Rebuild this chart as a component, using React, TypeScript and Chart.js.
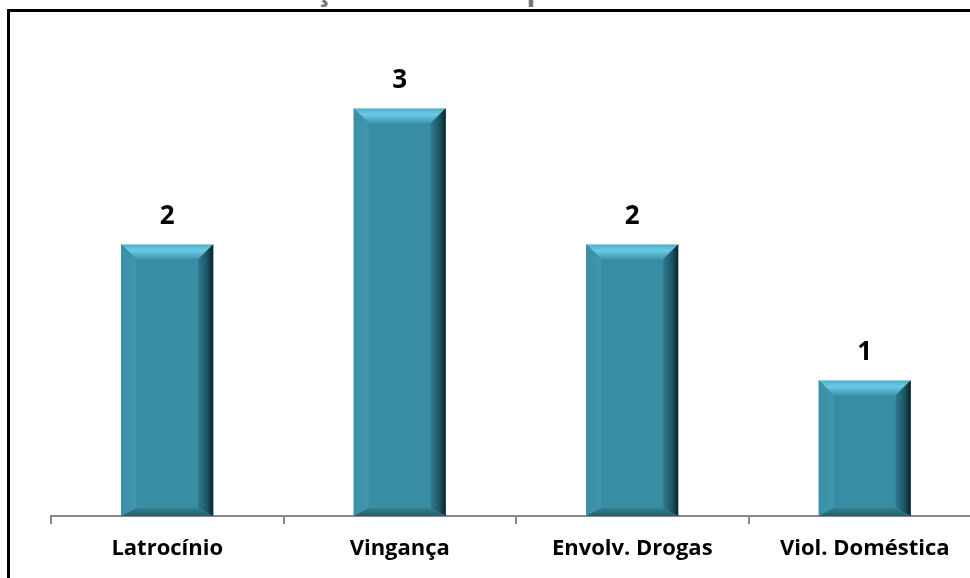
import React, { useEffect, useRef } from "react";
import { Chart, registerables } from "chart.js";

Chart.register(...registerables);

const titleText = "Gráfico 05 – Motivação dos CVLIs que foram elucidados – Oeste Nudeste";
const categories = ["Latrocínio", "Vingança", "Envolv. Drogas", "Viol. Doméstica"];
const values = [2, 3, 2, 1];
const yMax = 3.5;

const bevelPlugin = {
  id: "bevel",
  afterDatasetsDraw(chart: any) {
    const ctx = chart.ctx;
    const meta = chart.getDatasetMeta(0);
    meta.data.forEach((bar: any, i: number) => {
      const { x, y, base, width } = bar.getProps(["x", "y", "base", "width"], true);
      const l = x - width / 2;
      const r = x + width / 2;
      const t = y;
      const btm = base;
      const b = 15;
      const b2 = 8;
      ctx.save();
      ctx.fillStyle = "#388DA4";
      ctx.fillRect(l, t, r - l, btm - t);
      // left bevel
      let g = ctx.createLinearGradient(l, 0, l + b, 0);
      g.addColorStop(0, "#3A8FA6");
      g.addColorStop(1, "#3F96AD");
      ctx.fillStyle = g;
      ctx.beginPath();
      ctx.moveTo(l, t); ctx.lineTo(l + b, t + b); ctx.lineTo(l + b, btm - b2); ctx.lineTo(l, btm); ctx.closePath();
      ctx.fill();
      // right bevel
      g = ctx.createLinearGradient(r - b, 0, r, 0);
      g.addColorStop(0, "#2E7A8F");
      g.addColorStop(0.6, "#1D5463");
      g.addColorStop(1, "#0A2228");
      ctx.fillStyle = g;
      ctx.beginPath();
      ctx.moveTo(r, t); ctx.lineTo(r, btm); ctx.lineTo(r - b, btm - b2); ctx.lineTo(r - b, t + b); ctx.closePath();
      ctx.fill();
      // bottom bevel
      g = ctx.createLinearGradient(0, btm - b2, 0, btm);
      g.addColorStop(0, "#337F94");
      g.addColorStop(1, "#22606F");
      ctx.fillStyle = g;
      ctx.beginPath();
      ctx.moveTo(l, btm); ctx.lineTo(r, btm); ctx.lineTo(r - b, btm - b2); ctx.lineTo(l + b, btm - b2); ctx.closePath();
      ctx.fill();
      // top bevel
      g = ctx.createLinearGradient(0, t, 0, t + b);
      g.addColorStop(0, "#4FAFC9");
      g.addColorStop(0.45, "#6ACBE4");
      g.addColorStop(1, "#3F98B0");
      ctx.fillStyle = g;
      ctx.beginPath();
      ctx.moveTo(l, t); ctx.lineTo(r, t); ctx.lineTo(r - b, t + b); ctx.lineTo(l + b, t + b); ctx.closePath();
      ctx.fill();
      // top edge
      ctx.strokeStyle = "#A9C7D0";
      ctx.lineWidth = 1;
      ctx.beginPath();
      ctx.moveTo(l, t + 0.5); ctx.lineTo(r, t + 0.5);
      ctx.stroke();
      // value label
      ctx.fillStyle = "#000";
      ctx.font = "bold 26px 'Open Sans'";
      ctx.textAlign = "center";
      ctx.textBaseline = "middle";
      ctx.fillText(String(values[i]), x, t - 27);
      ctx.restore();
    });
  },
};

export default function App() {
  const ref = useRef<HTMLCanvasElement>(null);
  useEffect(() => {
    if (!ref.current) return;
    const chart = new Chart(ref.current, {
      type: "bar",
      data: {
        labels: categories,
        datasets: [
          {
            data: values,
            backgroundColor: "#388DA4",
            borderWidth: 0,
            barPercentage: 0.395,
            categoryPercentage: 1,
          },
        ],
      },
      options: {
        responsive: false,
        animation: false,
        maintainAspectRatio: false,
        layout: { padding: { left: 51, right: 29, top: 40, bottom: 0 } },
        plugins: { legend: { display: false }, tooltip: { enabled: false }, title: { display: false } },
        scales: {
          y: { display: false, min: 0, max: yMax },
          x: {
            afterFit(scale: any) {
              scale.height = 62;
            },
            grid: {
              drawOnChartArea: false,
              drawTicks: true,
              tickLength: 8,
              color: "#888888",
              lineWidth: 2,
              offset: true,
            },
            border: { display: true, color: "#888888", width: 2 },
            ticks: {
              color: "#000",
              font: { family: "'Open Sans'", size: 22, weight: "bold" },
              padding: 12,
              maxRotation: 0,
              autoSkip: false,
            },
          },
        },
      },
      plugins: [bevelPlugin],
    });
    return () => chart.destroy();
  }, []);
  return (
    <div style={{ position: "fixed", left: 0, top: 0, width: 970, height: 578, overflow: "hidden", background: "#fff" }}>
      <div
        style={{
          position: "absolute",
          left: 40,
          top: -28,
          whiteSpace: "nowrap",
          fontFamily: "'Open Sans'",
          fontWeight: "bold",
          fontSize: 29,
          lineHeight: "34px",
          color: "#777",
        }}
      >
        {titleText}
      </div>
      <div
        style={{
          position: "absolute",
          left: 7,
          top: 9,
          width: 1100,
          height: 700,
          border: "3px solid #000",
          boxSizing: "border-box",
        }}
      />
      <canvas ref={ref} width={1010} height={578} style={{ position: "absolute", left: 0, top: 0, width: 1010, height: 578 }} />
    </div>
  );
}
